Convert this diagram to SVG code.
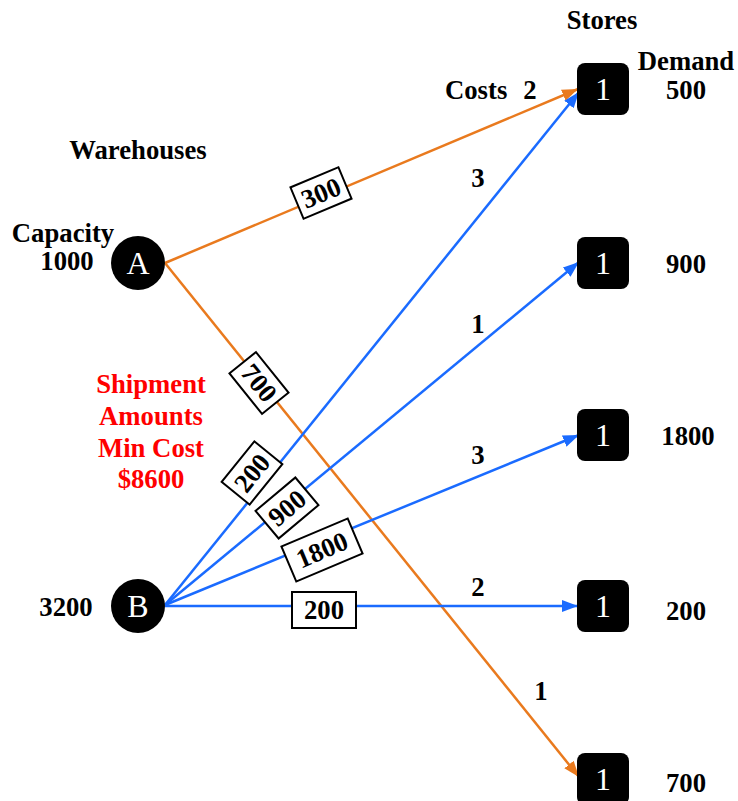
<svg xmlns="http://www.w3.org/2000/svg" width="738" height="801" viewBox="0 0 738 801">
<style>
text{font-family:"Liberation Serif","Times New Roman",serif;}
.b{font-weight:bold;font-size:26.7px;fill:#000;}
.c{text-anchor:middle;}
.red{font-weight:bold;font-size:26.7px;fill:#FF0000;text-anchor:middle;}
.wh{fill:#fff;font-size:32px;text-anchor:middle;}
.lo{stroke:#E97A1E;stroke-width:2.5;fill:none;marker-end:url(#ao);}
.lb{stroke:#1A6BFF;stroke-width:2.5;fill:none;marker-end:url(#ab);}
.lbl rect{fill:#fff;stroke:#000;stroke-width:2;}
.lbl text{font-weight:bold;font-size:26.7px;text-anchor:middle;}
</style>
<defs>
<marker id="ao" markerUnits="userSpaceOnUse" markerWidth="17" markerHeight="13" refX="16" refY="6" orient="auto"><path d="M0,0 L16,6 L0,12 z" fill="#E97A1E"/></marker>
<marker id="ab" markerUnits="userSpaceOnUse" markerWidth="17" markerHeight="13" refX="16" refY="6" orient="auto"><path d="M0,0 L16,6 L0,12 z" fill="#1A6BFF"/></marker>
</defs>
<rect width="738" height="801" fill="#fff"/>

<g id="connectors">
<line class="lo" x1="165" y1="263" x2="578" y2="89"/>
<line class="lo" x1="165" y1="263" x2="579" y2="777"/>
<line class="lb" x1="165" y1="605" x2="579" y2="92"/>
<line class="lb" x1="165" y1="605" x2="579" y2="262"/>
<line class="lb" x1="165" y1="605" x2="579" y2="435"/>
<line class="lb" x1="165" y1="606" x2="578" y2="606"/>
</g>

<g id="flow-labels">
<g class="lbl" transform="translate(321,193) rotate(-22.7)"><rect x="-26" y="-17" width="52" height="34"/><text x="0" y="9">300</text></g>
<g class="lbl" transform="translate(259,383) rotate(51.2)"><rect x="-26" y="-17" width="52" height="34"/><text x="0" y="9">700</text></g>
<g class="lbl" transform="translate(252,473) rotate(-51)"><rect x="-26" y="-18" width="52" height="36"/><text x="0" y="9">200</text></g>
<g class="lbl" transform="translate(287,508) rotate(-40)"><rect x="-26" y="-18" width="52" height="36"/><text x="0" y="9">900</text></g>
<g class="lbl" transform="translate(322,550) rotate(-23)"><rect x="-36" y="-19" width="72" height="38"/><text x="0" y="9">1800</text></g>
<g class="lbl" transform="translate(324,610)"><rect x="-32" y="-18" width="64" height="36"/><text x="0" y="9">200</text></g>
</g>

<g id="warehouse-A"><circle cx="138" cy="263" r="27" fill="#000"/><text class="wh" x="138" y="274">A</text></g>
<g id="warehouse-B"><circle cx="138" cy="606" r="27" fill="#000"/><text class="wh" x="138" y="617">B</text></g>

<g id="store-1"><rect x="577" y="63" width="52" height="52" rx="8" fill="#000"/><text class="wh" x="603" y="100">1</text></g>
<g id="store-2"><rect x="577" y="237" width="52" height="52" rx="8" fill="#000"/><text class="wh" x="603" y="274">1</text></g>
<g id="store-3"><rect x="577" y="409" width="52" height="52" rx="8" fill="#000"/><text class="wh" x="603" y="446">1</text></g>
<g id="store-4"><rect x="577" y="580" width="52" height="52" rx="8" fill="#000"/><text class="wh" x="603" y="617">1</text></g>
<g id="store-5"><rect x="577" y="753" width="52" height="52" rx="8" fill="#000"/><text class="wh" x="603" y="790">1</text></g>

<g id="texts">
<text class="b c" x="602" y="29">Stores</text>
<text class="b c" x="686" y="70">Demand</text>
<text class="b c" x="686" y="99">500</text>
<text class="b c" x="686" y="273">900</text>
<text class="b c" x="688" y="445">1800</text>
<text class="b c" x="686" y="620">200</text>
<text class="b c" x="686" y="792">700</text>
<text class="b" x="445" y="99">Costs</text>
<text class="b c" x="530" y="99">2</text>
<text class="b c" x="478" y="187">3</text>
<text class="b c" x="478" y="333">1</text>
<text class="b c" x="478" y="464">3</text>
<text class="b c" x="478" y="596">2</text>
<text class="b c" x="541" y="700">1</text>
<text class="b c" x="138" y="159">Warehouses</text>
<text class="b c" x="63" y="242">Capacity</text>
<text class="b c" x="67" y="270">1000</text>
<text class="b c" x="66" y="616">3200</text>
<text class="red" x="151" y="393">Shipment</text>
<text class="red" x="151" y="425">Amounts</text>
<text class="red" x="151" y="457">Min Cost</text>
<text class="red" x="151" y="488">$8600</text>
</g>
</svg>
